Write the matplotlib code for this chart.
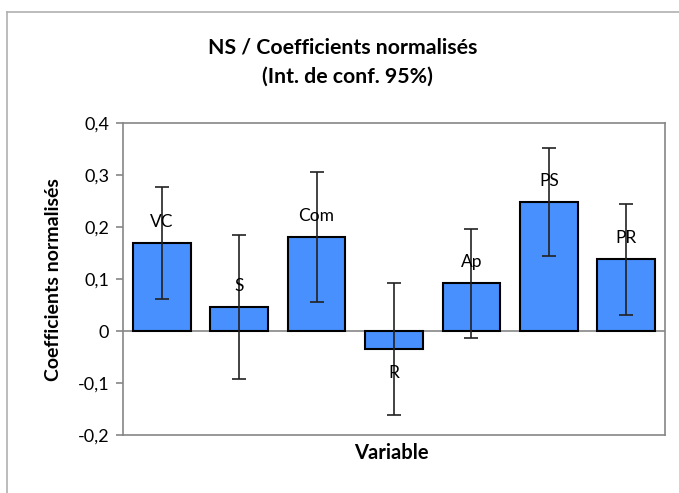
import numpy as np
from matplotlib import pyplot as plt

# valeurs
variables = ['VC', 'S', 'Com', 'R', 'Ap', 'PS', 'PR']
coefficients = [0.169, 0.046, 0.181, -0.035, 0.092, 0.248, 0.138]
borne_haute = [0.276, 0.185, 0.306, 0.092, 0.197, 0.352, 0.244]
borne_basse = [0.061, -0.093, 0.056, -0.162, -0.013, 0.144, 0.031]
graduations = [-0.2, -0.1, 0.0, 0.1, 0.2, 0.3, 0.4]
etiquettes_y = ['-0,2', '-0,1', '0', '0,1', '0,2', '0,3', '0,4']

plt.rcParams['font.family'] = ['Lato', 'DejaVu Sans']

coef = np.array(coefficients)
err_bas = coef - np.array(borne_basse)
err_haut = np.array(borne_haute) - coef
x = np.arange(len(variables))

fig = plt.figure(figsize=(6.79, 4.93), dpi=100)
ax = fig.add_axes([123 / 679, 1 - 435 / 493, (665 - 123) / 679, (435 - 123) / 493])

gris = '#868686'
ax.bar(x, coef, width=0.745, color='#4890FE', edgecolor='black', linewidth=1.5, zorder=2)
ax.errorbar(x, coef, yerr=[err_bas, err_haut], fmt='none', ecolor='#222222',
            elinewidth=1.2, capsize=5, capthick=1.2, zorder=3)
ax.axhline(0, color=gris, linewidth=1.2, zorder=1)

# étiquettes des barres
for xi, yi, nom in zip(x, coef, variables):
    decalage = 15 if yi >= 0 else -17
    ax.annotate(nom, (xi, yi), xytext=(0, decalage), textcoords='offset points',
                ha='center', va='center', fontsize=12.5, zorder=4)

ax.set_xlim(-0.5, len(variables) - 0.5)
ax.set_ylim(-0.2, 0.4)
ax.set_yticks(graduations)
ax.set_yticklabels(etiquettes_y, fontsize=13)
ax.set_xticks([])
ax.tick_params(axis='y', direction='out', length=5, color=gris, width=1.2, pad=5)
for s in ax.spines.values():
    s.set_color(gris)
    s.set_linewidth(1.2)

fig.text(391 / 679, 1 - 453 / 493, 'Variable', ha='center', va='center',
         fontsize=14.5, fontweight='bold')
fig.text(54 / 679, 1 - 280 / 493, 'Coefficients normalisés', rotation=90,
         ha='center', va='center', fontsize=14, fontweight='bold')
fig.text(343 / 679, 1 - 47 / 493, 'NS / Coefficients normalisés', ha='center',
         va='center', fontsize=15.3, fontweight='bold')
fig.text(347 / 679, 1 - 77 / 493, '(Int. de conf. 95%)', ha='center',
         va='center', fontsize=15.3, fontweight='bold')

# cadre du graphique
fig.add_artist(plt.Line2D([7 / 679, 7 / 679], [0, 1 - 12 / 493], color='#b0b0b0', linewidth=1.2))
fig.add_artist(plt.Line2D([7 / 679, 1], [1 - 12 / 493, 1 - 12 / 493], color='#b0b0b0', linewidth=1.2))

fig.savefig('out.png', dpi=100)
